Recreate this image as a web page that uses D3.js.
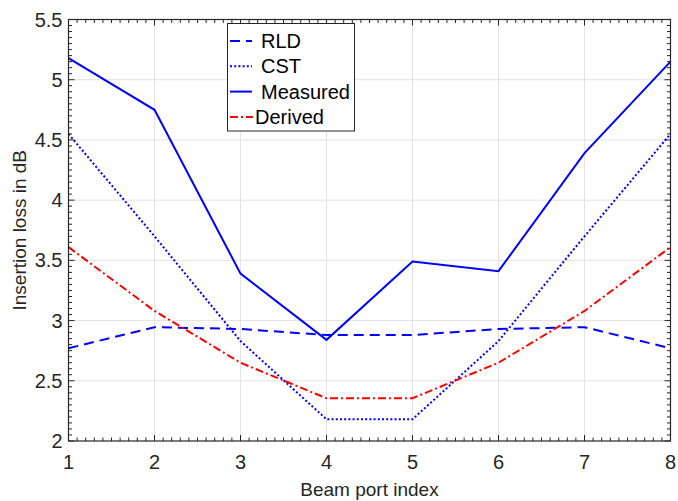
<!DOCTYPE html>
<html>
<head>
<meta charset="utf-8">
<script src="https://cdn.jsdelivr.net/npm/d3@7"></script>
<style>
  body { margin: 0; background: #fff; }
  text { font-family: "Liberation Sans", Arial, sans-serif; fill: #262626; }
</style>
</head>
<body>
<div id="chart"></div>
<script>
var width = 678;
var height = 501;

// data
var ports = [1, 2, 3, 4, 5, 6, 7, 8];
var rld = [2.77, 2.945, 2.93, 2.88, 2.88, 2.93, 2.945, 2.77];
var cst = [4.55, 3.70, 2.83, 2.18, 2.18, 2.83, 3.70, 4.55];
var measured = [5.18, 4.75, 3.39, 2.84, 3.49, 3.41, 4.39, 5.15];
var derived = [3.61, 3.08, 2.65, 2.355, 2.355, 2.65, 3.08, 3.61];
var xTicks = [1, 2, 3, 4, 5, 6, 7, 8];
var yTicks = [2, 2.5, 3, 3.5, 4, 4.5, 5, 5.5];

var series = [
  { name: "RLD", values: rld, color: "#0000ff", dash: "10,6" },
  { name: "CST", values: cst, color: "#0000ff", dash: "2,2.2" },
  { name: "Measured", values: measured, color: "#0000ff", dash: null },
  { name: "Derived", values: derived, color: "#ff0000", dash: "8,3,2,3" }
];

var margin = { left: 68.5, top: 19.5, right: 7.5, bottom: 60 };
var x0 = margin.left, x1 = width - margin.right;
var y0 = height - margin.bottom, y1 = margin.top;

var svg = d3.select("#chart").append("svg")
  .attr("width", width)
  .attr("height", height);

var x = d3.scaleLinear().domain([1, 8]).range([x0, x1]);
var y = d3.scaleLinear().domain([2, 5.5]).range([y0, y1]);

// grid
svg.append("g").selectAll("line.gx")
  .data(xTicks.slice(1, -1)).enter().append("line")
  .attr("x1", d => x(d)).attr("x2", d => x(d))
  .attr("y1", y0).attr("y2", y1)
  .attr("stroke", "#e3e3e3").attr("stroke-width", 1);
svg.append("g").selectAll("line.gy")
  .data(yTicks.slice(1, -1)).enter().append("line")
  .attr("x1", x0).attr("x2", x1)
  .attr("y1", d => y(d)).attr("y2", d => y(d))
  .attr("stroke", "#e3e3e3").attr("stroke-width", 1);

// minor / major ticks on all four sides
var xMinor = d3.range(10, 81).map(d => d / 10);
var yMinor = d3.range(40, 111).map(d => d / 20);
var ticks = svg.append("g").attr("stroke", "#262626").attr("stroke-width", 1);
xMinor.forEach(function(v) {
  var major = xTicks.indexOf(v) >= 0;
  var len = major ? 6 : 3.5;
  ticks.append("line").attr("x1", x(v)).attr("x2", x(v)).attr("y1", y0).attr("y2", y0 - len);
  ticks.append("line").attr("x1", x(v)).attr("x2", x(v)).attr("y1", y1).attr("y2", y1 + len);
});
yMinor.forEach(function(v) {
  var major = yTicks.indexOf(v) >= 0;
  var len = major ? 6 : 3.5;
  ticks.append("line").attr("y1", y(v)).attr("y2", y(v)).attr("x1", x0).attr("x2", x0 + len);
  ticks.append("line").attr("y1", y(v)).attr("y2", y(v)).attr("x1", x1).attr("x2", x1 - len);
});

// lines
var line = d3.line()
  .x((d, i) => x(ports[i]))
  .y(d => y(d));

series.forEach(function(s) {
  svg.append("path")
    .datum(s.values)
    .attr("d", line)
    .attr("fill", "none")
    .attr("stroke", s.color)
    .attr("stroke-width", 2)
    .attr("stroke-dasharray", s.dash);
});

// box
svg.append("rect")
  .attr("x", x0).attr("y", y1)
  .attr("width", x1 - x0).attr("height", y0 - y1)
  .attr("fill", "none").attr("stroke", "#262626").attr("stroke-width", 1.2);

// tick labels
svg.append("g").selectAll("text")
  .data(xTicks).enter().append("text")
  .attr("x", d => x(d)).attr("y", y0 + 28)
  .attr("text-anchor", "middle")
  .attr("font-size", 20)
  .text(d => d);
svg.append("g").selectAll("text")
  .data(yTicks).enter().append("text")
  .attr("x", x0 - 6).attr("y", d => y(d) + 7)
  .attr("text-anchor", "end")
  .attr("font-size", 20)
  .text(d => d);

// axis labels
svg.append("text")
  .attr("x", (x0 + x1) / 2).attr("y", 496)
  .attr("text-anchor", "middle")
  .attr("font-size", 19)
  .text("Beam port index");
svg.append("text")
  .attr("transform", "translate(26," + ((y0 + y1) / 2) + ") rotate(-90)")
  .attr("text-anchor", "middle")
  .attr("font-size", 19)
  .text("Insertion loss in dB");

// legend
var legend = svg.append("g");
legend.append("rect")
  .attr("x", 227.5).attr("y", 23.5)
  .attr("width", 127).attr("height", 107.5)
  .attr("fill", "#fff").attr("stroke", "#262626").attr("stroke-width", 1);
series.forEach(function(s, i) {
  var cy = 41 + i * 25.3;
  legend.append("line")
    .attr("x1", 230).attr("x2", s.name === "Derived" ? 253 : 252)
    .attr("y1", cy).attr("y2", cy)
    .attr("stroke", s.color).attr("stroke-width", 2)
    .attr("stroke-dasharray", s.dash);
  legend.append("text")
    .attr("x", s.name === "Derived" ? 255 : 261).attr("y", cy + 7)
    .attr("font-size", 20)
    .style("fill", "#000")
    .text(s.name);
});
</script>
</body>
</html>
